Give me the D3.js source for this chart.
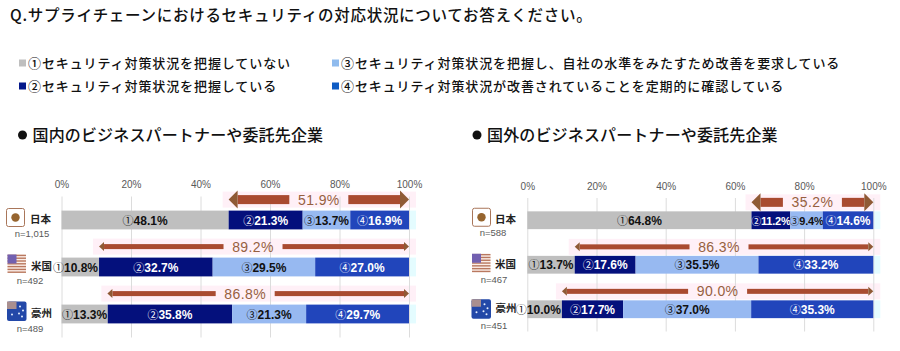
<!DOCTYPE html>
<html>
<head>
<meta charset="utf-8">
<script src="https://cdn.jsdelivr.net/npm/d3@7"></script>
<style>
  html, body { margin: 0; padding: 0; background: #fff; }
  svg { display: block; }
  text { font-family: "Noto Sans CJK JP", sans-serif; }
  .tick text, .sample { font-family: "Liberation Sans", sans-serif; }
</style>
</head>
<body>
<div id="chart"></div>
<script>
// Data
const title = 'Q.サプライチェーンにおけるセキュリティの対応状況についてお答えください。'
const seriesNames = ['①', '②', '③', '④']
const legendLabels = [
  '①セキュリティ対策状況を把握していない',
  '②セキュリティ対策状況を把握している',
  '③セキュリティ対策状況を把握し、自社の水準をみたすため改善を要求している',
  '④セキュリティ対策状況が改善されていることを定期的に確認している',
]
const countries = ['日本', '米国', '豪州']
const ticks = [0, 20, 40, 60, 80, 100]

const domesticTitle = '国内のビジネスパートナーや委託先企業'
const domesticN = ['n=1,015', 'n=492', 'n=489']
const domesticS1 = [48.1, 10.8, 13.3]
const domesticS2 = [21.3, 32.7, 35.8]
const domesticS3 = [13.7, 29.5, 21.3]
const domesticS4 = [16.9, 27.0, 29.7]
const domesticTotal = [51.9, 89.2, 86.8]

const overseasTitle = '国外のビジネスパートナーや委託先企業'
const overseasN = ['n=588', 'n=467', 'n=451']
const overseasS1 = [64.8, 13.7, 10.0]
const overseasS2 = [11.2, 17.6, 17.7]
const overseasS3 = [9.4, 35.5, 37.0]
const overseasS4 = [14.6, 33.2, 35.3]
const overseasTotal = [35.2, 86.3, 90.0]

// Styles
const barColors = ['#bfbfbf', '#04107c', '#97b9f1', '#2145bb']
const legendColors = ['#bfbfbf', '#04188a', '#8fbbee', '#0f5cc4']
const labelColors = ['#111', '#fff', '#111', '#fff']
const arrowColor = '#a94b30'
const headColor = '#8f5a35'
const totalColor = '#96603f'

const svg = d3.select('#chart')
  .append('svg')
  .attr('width', 900)
  .attr('height', 351)

// Title
svg.append('text')
  .attr('x', 10).attr('y', 21)
  .attr('font-size', 15.5)
  .attr('font-weight', 500)
  .attr('fill', '#111')
  .attr('letter-spacing', 0.72)
  .text(title)

// Legend
const legendPos = [[19, 63], [19, 86], [332, 63], [332, 86]]
const legend = svg.append('g')
  .selectAll('g')
  .data(legendLabels)
  .join('g')
  .attr('transform', (d, i) => `translate(${legendPos[i][0]}, ${legendPos[i][1]})`)

legend.append('rect')
  .attr('y', -3.5)
  .attr('width', 7)
  .attr('height', 7)
  .attr('fill', (d, i) => legendColors[i])

legend.append('text')
  .attr('x', 9)
  .attr('y', 5)
  .attr('font-size', 13)
  .attr('font-weight', 500)
  .attr('letter-spacing', 0.9)
  .attr('fill', '#111')
  .text(d => d)

function drawFlag(g, name) {
  if (name === '日本') {
    g.append('rect').attr('x', 0.5).attr('y', 0.5).attr('width', 18).attr('height', 18).attr('rx', 2)
      .attr('fill', '#fff').attr('stroke', '#a9765a').attr('stroke-width', 1)
    g.append('circle').attr('cx', 9.5).attr('cy', 9.5).attr('r', 4.2).attr('fill', '#96652f')
  } else if (name === '米国') {
    g.append('rect').attr('width', 18.5).attr('height', 18.5).attr('rx', 2).attr('fill', '#fbeee8')
    d3.range(0, 7).forEach(i => {
      g.append('rect').attr('y', i * 2.8 + 0.2).attr('width', 18.5).attr('height', 1.4).attr('fill', '#b9785f')
    })
    g.append('rect').attr('width', 9).attr('height', 9).attr('fill', '#7260b0')
  } else {
    g.append('rect').attr('width', 19.5).attr('height', 19.5).attr('rx', 2).attr('fill', '#2348a8')
    g.append('rect').attr('width', 9.5).attr('height', 7.5).attr('fill', '#a98f8f')
    const stars = [[13, 5], [16, 9], [12, 12], [15, 15], [5, 13]]
    g.selectAll('.star').data(stars).join('circle')
      .attr('class', 'star')
      .attr('cx', d => d[0]).attr('cy', d => d[1]).attr('r', 1)
      .attr('fill', '#e6efff')
  }
}

function drawPanel(p) {
  const panel = svg.append('g')

  // Heading
  panel.append('circle').attr('cx', p.headX).attr('cy', 135).attr('r', 4.5).attr('fill', '#111')
  panel.append('text')
    .attr('x', p.headX + 10).attr('y', 141)
    .attr('font-size', 16)
    .attr('font-weight', 500)
    .attr('letter-spacing', 0.15)
    .attr('fill', '#111')
    .text(p.title)

  // Scales
  const x = d3.scaleLinear().domain([0, 100]).range(p.xRange)
  const y = d3.scaleBand()
    .domain(countries)
    .range(p.yRange)
    .paddingInner(0.6)
    .paddingOuter(0.3)

  const rows = countries.map((c, i) => ({
    country: c,
    n: p.n[i],
    total: p.total[i],
    s0: p.series[0][i],
    s1: p.series[1][i],
    s2: p.series[2][i],
    s3: p.series[3][i],
  }))
  const stacked = d3.stack().keys(['s0', 's1', 's2', 's3'])(rows)

  // Pale halos
  const halo = panel.append('g')
  halo.selectAll('.pink')
    .data(rows)
    .join('rect')
    .attr('class', 'pink')
    .attr('x', d => x(100 - d.total) - 6)
    .attr('y', d => y(d.country) - p.arrowGap - 8)
    .attr('width', d => x(100) + 13 - (x(100 - d.total) - 6) - 6)
    .attr('height', 16)
    .attr('fill', '#fff0f7')
  halo.selectAll('.cyan')
    .data(rows)
    .join('rect')
    .attr('class', 'cyan')
    .attr('x', x(100))
    .attr('y', d => y(d.country))
    .attr('width', 7)
    .attr('height', y.bandwidth())
    .attr('fill', '#e4fcff')

  // Axis with grid
  const axis = d3.axisTop(x)
    .tickValues(ticks)
    .tickFormat(d => `${d}%`)
    .tickSize(-(p.yRange[1] - p.yRange[0]))
    .tickPadding(p.tickPad)
  const axisG = panel.append('g')
    .attr('transform', `translate(0, ${p.yRange[0]})`)
    .call(axis)
  axisG.select('.domain').remove()
  axisG.selectAll('.tick line').attr('stroke', '#dcdcdc')
  axisG.selectAll('.tick text').attr('font-size', 10).attr('fill', '#595959')

  // Bars
  const layers = panel.selectAll('.layer')
    .data(stacked)
    .join('g')
    .attr('class', 'layer')

  layers.selectAll('rect')
    .data(d => d)
    .join('rect')
    .attr('x', d => x(d[0]))
    .attr('y', d => y(d.data.country))
    .attr('width', d => x(Math.min(d[1], 100)) - x(d[0]))
    .attr('height', y.bandwidth())
    .attr('fill', function () { return barColors[d3.select(this.parentNode).datum().index] })

  // Segment labels: a short first segment overflows to the left,
  // later narrow segments get a tighter label
  const tooShort = d => x(d.v[1]) - x(d.v[0]) < 40
  const isFirstShort = d => d.i === 0 && tooShort(d)
  const isNarrow = d => d.i > 0 && tooShort(d)
  const labels = layers.selectAll('text')
    .data((d, i) => d.map(v => ({ v, i, value: v.data[d.key] })))
    .join('text')
    .attr('x', d => isFirstShort(d) ? x(d.v[1]) - 1 : x((d.v[0] + d.v[1]) / 2))
    .attr('y', d => y(d.v.data.country) + y.bandwidth() / 2 + 4.5)
    .attr('text-anchor', d => isFirstShort(d) ? 'end' : 'middle')
    .attr('letter-spacing', d => isNarrow(d) ? -0.2 : 0)
    .attr('fill', d => labelColors[d.i])

  labels.append('tspan')
    .attr('font-size', d => isNarrow(d) ? 10 : 11)
    .attr('font-weight', 400)
    .text(d => seriesNames[d.i])
  labels.append('tspan')
    .attr('class', 'sample')
    .attr('font-size', d => isNarrow(d) ? 11 : 12)
    .attr('font-weight', 700)
    .text(d => `${d.value.toFixed(1)}%`)

  // Range arrows
  rows.forEach((d, i) => {
    const cy = y(d.country) - p.arrowGap
    const x0 = x(100 - d.total)
    const x1 = x(100)
    const mid = (x0 + x1) / 2 + p.labelShift[i]
    const gap = 29.5
    const thick = i === 0 ? 9 : 5
    const head = i === 0 ? 9 : 4.5
    const headLen = i === 0 ? 9 : 5
    const g = panel.append('g')
    g.append('rect')
      .attr('x', x0 + headLen).attr('y', cy - thick / 2)
      .attr('width', mid - gap - x0 - headLen).attr('height', thick)
      .attr('fill', arrowColor)
    g.append('rect')
      .attr('x', mid + gap).attr('y', cy - thick / 2)
      .attr('width', x1 - headLen - mid - gap).attr('height', thick)
      .attr('fill', arrowColor)
    g.append('path')
      .attr('d', d3.line()([[x0, cy], [x0 + headLen, cy - head], [x0 + headLen, cy + head]]) + 'Z')
      .attr('fill', headColor)
    g.append('path')
      .attr('d', d3.line()([[x1, cy], [x1 - headLen, cy - head], [x1 - headLen, cy + head]]) + 'Z')
      .attr('fill', headColor)
    g.append('text')
      .attr('class', 'sample')
      .attr('x', mid)
      .attr('y', cy + 5)
      .attr('text-anchor', 'middle')
      .attr('font-size', 14)
      .attr('letter-spacing', 0.4)
      .attr('font-weight', 400)
      .attr('fill', totalColor)
      .style('-webkit-text-stroke', '0.4px ' + totalColor)
      .text(`${d.total.toFixed(1)}%`)
  })

  // Row headers
  rows.forEach((d, i) => {
    const f = p.flags[i]
    const cy = y(d.country) + y.bandwidth() / 2
    drawFlag(panel.append('g').attr('transform', `translate(${f.x}, ${cy + f.dy})`), d.country)
    panel.append('text')
      .attr('x', f.x + f.labelDx)
      .attr('y', cy + 3)
      .attr('font-size', 10.5)
      .attr('font-weight', 700)
      .attr('fill', '#222')
      .text(d.country)
    panel.append('text')
      .attr('class', 'sample')
      .attr('x', f.nX)
      .attr('y', cy + f.nDy)
      .attr('text-anchor', 'middle')
      .attr('font-size', 9.5)
      .attr('fill', '#595959')
      .text(d.n)
  })
}

drawPanel({
  title: domesticTitle,
  headX: 22.5,
  n: domesticN,
  total: domesticTotal,
  series: [domesticS1, domesticS2, domesticS3, domesticS4],
  xRange: [61.5, 409],
  yRange: [196.5, 337.5],
  tickPad: 9,
  arrowGap: 11,
  labelShift: [0, -1, -13],
  flags: [
    { x: 6, dy: -12, labelDx: 24, nX: 32, nDy: 16.5 },
    { x: 7.5, dy: -12.5, labelDx: 23.5, nX: 30, nDy: 16.5 },
    { x: 7, dy: -12.5, labelDx: 24, nX: 30, nDy: 17.5 },
  ],
})

drawPanel({
  title: overseasTitle,
  headX: 477,
  n: overseasN,
  total: overseasTotal,
  series: [overseasS1, overseasS2, overseasS3, overseasS4],
  xRange: [527.3, 873.3],
  yRange: [198, 331.5],
  tickPad: 8,
  arrowGap: 9,
  labelShift: [0, -5, 0],
  flags: [
    { x: 472, dy: -12.5, labelDx: 23, nX: 493, nDy: 16 },
    { x: 472, dy: -11, labelDx: 23, nX: 494, nDy: 18 },
    { x: 471.5, dy: -10, labelDx: 24, nX: 494, nDy: 20 },
  ],
})
</script>
</body>
</html>
